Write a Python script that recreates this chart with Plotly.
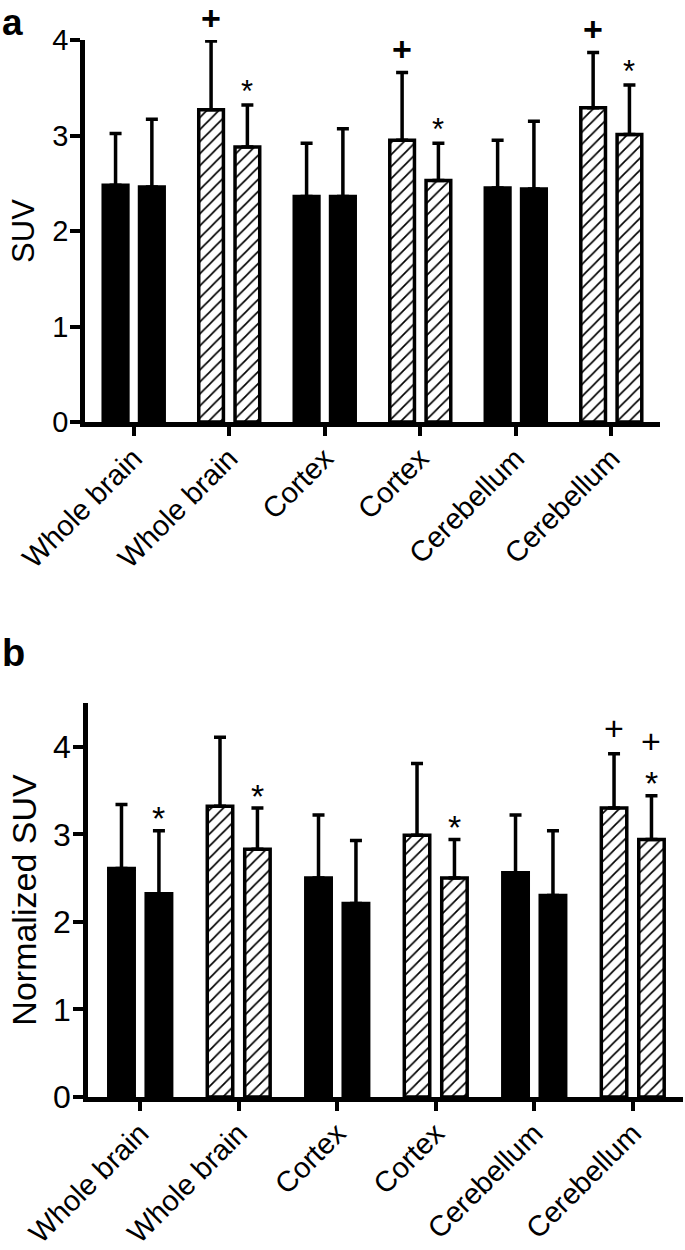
import plotly.graph_objects as go

# ---------------- data ----------------
categories = ["Whole brain", "Whole brain", "Cortex", "Cortex", "Cerebellum", "Cerebellum"]
hatched = [False, True, False, True, False, True]

# panel a: SUV (first and second bar of each pair), mean and upper SD
a_first_mean = [2.48, 3.27, 2.36, 2.95, 2.45, 3.29]
a_first_sd = [0.54, 0.72, 0.56, 0.71, 0.50, 0.58]
a_second_mean = [2.46, 2.88, 2.36, 2.53, 2.44, 3.01]
a_second_sd = [0.71, 0.44, 0.71, 0.39, 0.71, 0.52]
a_first_mark = ["", "+", "", "+", "", "+"]
a_second_mark = ["", "*", "", "*", "", "*"]

# panel b: normalized SUV
b_first_mean = [2.61, 3.32, 2.50, 2.99, 2.56, 3.30]
b_first_sd = [0.73, 0.79, 0.72, 0.82, 0.66, 0.62]
b_second_mean = [2.32, 2.83, 2.21, 2.50, 2.30, 2.94]
b_second_sd = [0.72, 0.47, 0.72, 0.44, 0.74, 0.50]
b_first_mark = ["", "", "", "", "", "+"]
b_second_mark = ["*", "*", "", "*", "", "+*"]

y_ticks_a = [0, 1, 2, 3, 4]
y_ticks_b = [0, 1, 2, 3, 4]

# ---------------- style ----------------
FONT = "Arial, 'Liberation Sans', sans-serif"
W, H = 685, 1250
BARGAP = 0.24
BARGROUPGAP = 0.32

xs = list(range(len(categories)))
shapes = ["/" if h else "" for h in hatched]


def bar(xaxis, yaxis, means, sds, name):
    return go.Bar(
        x=xs, y=means, xaxis=xaxis, yaxis=yaxis, name=name, showlegend=False,
        marker=dict(
            color="black",
            line=dict(color="black", width=3.5),
            pattern=dict(shape=shapes, fgcolor="black", bgcolor="white",
                         size=8.5, solidity=0.2, fillmode="replace"),
        ),
        error_y=dict(type="data", symmetric=False, array=sds,
                     arrayminus=[0] * len(sds), color="black",
                     thickness=3.5, width=6),
    )


fig = go.Figure()
fig.add_trace(bar("x", "y", a_first_mean, a_first_sd, "a1"))
fig.add_trace(bar("x", "y", a_second_mean, a_second_sd, "a2"))
fig.add_trace(bar("x2", "y2", b_first_mean, b_first_sd, "b1"))
fig.add_trace(bar("x2", "y2", b_second_mean, b_second_sd, "b2"))

off = (1 - BARGAP) / 4.0
annotations = []


def add_marks(xref, yref, means, sds, marks, side, plus_size, star_size, plus_bold,
              plus_gap, star_gap, stack_gap):
    for i, (m, s, mk) in enumerate(zip(means, sds, marks)):
        top = m + s
        xpos = i + side * off
        extra = 0
        if "*" in mk:
            annotations.append(dict(x=xpos, y=top, xref=xref, yref=yref, text="*",
                                    showarrow=False, yanchor="middle",
                                    yshift=star_gap - 0.25 * star_size,
                                    font=dict(family=FONT, size=star_size, color="black")))
            extra = stack_gap
        if "+" in mk:
            txt = "<b>+</b>" if plus_bold else "+"
            annotations.append(dict(x=xpos, y=top, xref=xref, yref=yref, text=txt,
                                    showarrow=False, yanchor="middle",
                                    yshift=plus_gap + extra,
                                    font=dict(family=FONT, size=plus_size, color="black")))


add_marks("x", "y", a_first_mean, a_first_sd, a_first_mark, -1, 34, 31, True, 23, 21, 0)
add_marks("x", "y", a_second_mean, a_second_sd, a_second_mark, 1, 34, 31, True, 23, 21, 0)
add_marks("x2", "y2", b_first_mean, b_first_sd, b_first_mark, -1, 34, 34, False, 26, 21, 0)
add_marks("x2", "y2", b_second_mean, b_second_sd, b_second_mark, 1, 34, 34, False, 26, 21, 29)

annotations.append(dict(x=0.0, y=1.0, xref="paper", yref="paper", text="<b>a</b>",
                        showarrow=False, xanchor="left", yanchor="top",
                        font=dict(family=FONT, size=37, color="black")))
annotations.append(dict(x=0.0, y=1 - 653 / H, xref="paper", yref="paper", text="<b>b</b>",
                        showarrow=False, xanchor="left", yanchor="middle",
                        font=dict(family=FONT, size=38, color="black")))

axis_common = dict(showline=True, linecolor="black", linewidth=4.5, ticks="outside",
                   tickcolor="black", tickwidth=4, showgrid=False, zeroline=False,
                   mirror=False, automargin=False)

fig.update_layout(
    width=W, height=H, margin=dict(l=0, r=0, t=0, b=0),
    paper_bgcolor="white", plot_bgcolor="white",
    barmode="group", bargap=BARGAP, bargroupgap=BARGROUPGAP,
    font=dict(family=FONT, color="black"),
    annotations=annotations,
    xaxis=dict(domain=[85 / W, 660 / W], range=[-0.51, 5.51], anchor="y",
               tickvals=xs, ticktext=categories, tickangle=-45, ticklen=9,
               ticklabelstandoff=-6, tickfont=dict(size=29), **axis_common),
    yaxis=dict(domain=[1 - 422 / H, 1 - 40 / H], range=[0, 4], anchor="x",
               tickvals=y_ticks_a, ticklen=10, tickfont=dict(size=29),
               ticklabelstandoff=-4,
               title=dict(text="SUV", font=dict(size=31), standoff=10),
               **axis_common),
    xaxis2=dict(domain=[88 / W, 683 / W], range=[-0.53, 5.51], anchor="y2",
                tickvals=xs, ticktext=categories, tickangle=-45, ticklen=9,
                ticklabelstandoff=-6, tickfont=dict(size=29), **axis_common),
    yaxis2=dict(domain=[1 - 1097 / H, 1 - 703 / H], range=[0, 4.5], anchor="x2",
                tickvals=y_ticks_b, ticklen=10, tickfont=dict(size=32),
                ticklabelstandoff=-4,
                title=dict(text="Normalized SUV", font=dict(size=34), standoff=8),
                **axis_common),
)

fig.write_html("out.html", config={"displayModeBar": False},
               post_script="document.body.style.margin='0';")
